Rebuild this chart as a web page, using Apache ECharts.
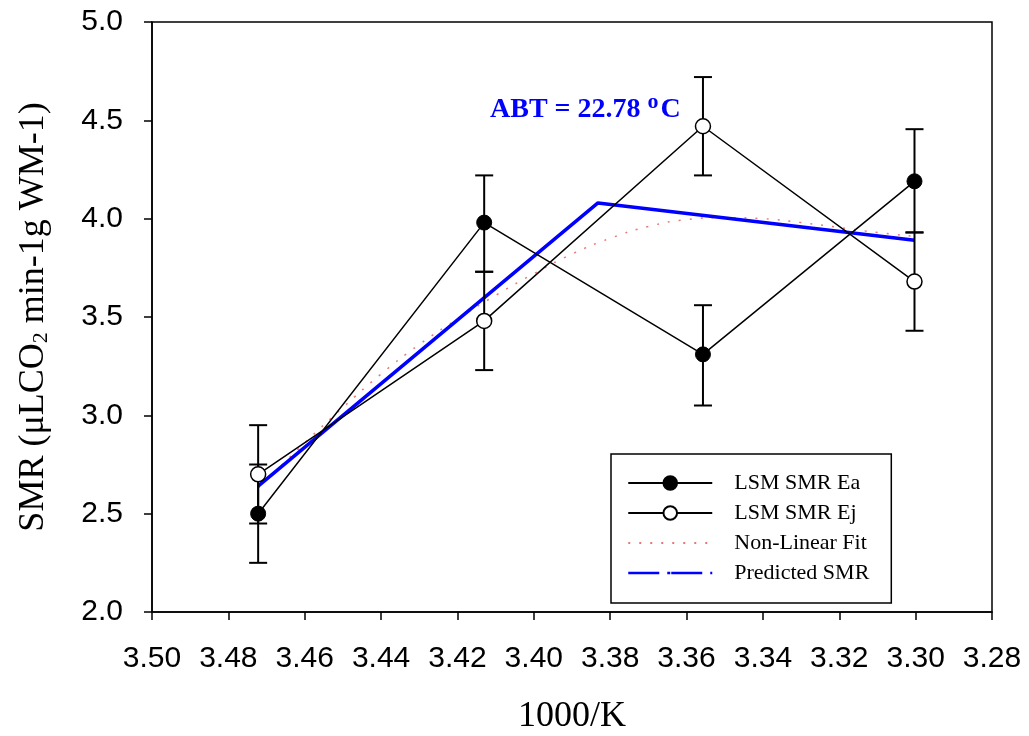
<!DOCTYPE html>
<html>
<head>
<meta charset="utf-8">
<script src="https://cdn.jsdelivr.net/npm/echarts@6/dist/echarts.min.js"></script>
<style>html,body{margin:0;padding:0;background:#fff;}#c{width:1029px;height:736px;}</style>
</head>
<body>
<div id="c"></div>
<script>
// 1000/K positions (15, 20, 25, 30 °C)
const xVals = [3.4722, 3.4130, 3.3557, 3.3003];
// LSM SMR Ea (filled)
const eaMean = [2.50, 3.98, 3.31, 4.19];
const eaLow  = [2.25, 3.73, 3.05, 3.93];
const eaHigh = [2.75, 4.22, 3.56, 4.455];
// LSM SMR Ej (open)
const ejMean = [2.70, 3.48, 4.47, 3.68];
const ejLow  = [2.45, 3.23, 4.22, 3.43];
const ejHigh = [2.95, 3.73, 4.72, 3.93];
// Predicted SMR (broken-line)
const predX = [3.4722, 3.3832, 3.3003];
const predY = [2.64, 4.08, 3.89];
// Non-linear fit curve
const fitX = [3.4722, 3.46, 3.45, 3.44, 3.43, 3.42, 3.41, 3.40, 3.39, 3.38, 3.37, 3.36, 3.35, 3.34, 3.33, 3.32, 3.31, 3.3003];
const fitY = [2.63, 2.86, 3.04, 3.21, 3.36, 3.49, 3.61, 3.72, 3.82, 3.90, 3.96, 3.995, 4.005, 4.00, 3.98, 3.955, 3.93, 3.91];
const yTicks = ['2.0','2.5','3.0','3.5','4.0','4.5','5.0'];

const zip = (a, b) => a.map((v, i) => [v, b[i]]);
const zip3 = (a, b, c) => a.map((v, i) => [v, b[i], c[i]]);

function errRender(params, api) {
  const x = api.value(0), lo = api.value(1), hi = api.value(2);
  const pLo = api.coord([x, lo]), pHi = api.coord([x, hi]);
  const hw = 9;
  const st = {stroke: '#000', lineWidth: 2};
  return {type: 'group', children: [
    {type: 'line', shape: {x1: pLo[0], y1: pLo[1], x2: pHi[0], y2: pHi[1]}, style: st},
    {type: 'line', shape: {x1: pLo[0] - hw, y1: pLo[1], x2: pLo[0] + hw, y2: pLo[1]}, style: st},
    {type: 'line', shape: {x1: pHi[0] - hw, y1: pHi[1], x2: pHi[0] + hw, y2: pHi[1]}, style: st}
  ]};
}

const chart = echarts.init(document.getElementById('c'), null, {renderer: 'canvas'});
const serif = 'Liberation Serif';
const sans = 'Liberation Sans';
chart.setOption({
  animation: false,
  backgroundColor: '#fff',
  grid: {left: 152, right: 37, top: 22, bottom: 124, outerBoundsMode: 'none', containLabel: false,
    show: true, borderColor: '#000', borderWidth: 1.5, backgroundColor: 'transparent'},
  xAxis: {
    type: 'value', min: 3.28, max: 3.50, interval: 0.02, inverse: true,
    name: '1000/K', nameLocation: 'middle', nameGap: 87,
    nameTextStyle: {fontFamily: serif, fontSize: 36, color: '#000'},
    axisLine: {show: true, onZero: false, lineStyle: {color: '#000', width: 1.5}},
    axisTick: {show: true, inside: false, length: 8, lineStyle: {color: '#000', width: 1.5}},
    axisLabel: {margin: 32, fontFamily: sans, fontSize: 30, color: '#000', formatter: v => v.toFixed(2)},
    splitLine: {show: false}
  },
  yAxis: {
    type: 'value', min: 2, max: 5, interval: 0.5,
    name: '{a|SMR (μLCO}{s|2}{a| min-1g WM-1)}', nameLocation: 'middle', nameGap: 100,
    nameTextStyle: {rich: {
      a: {fontFamily: serif, fontSize: 36, color: '#000'},
      s: {fontFamily: serif, fontSize: 22, color: '#000', verticalAlign: 'bottom', padding: [14, 0, 0, 0]}
    }},
    axisLine: {show: true, onZero: false, lineStyle: {color: '#000', width: 1.5}},
    axisTick: {show: true, inside: false, length: 8, lineStyle: {color: '#000', width: 1.5}},
    axisLabel: {margin: 29, fontFamily: sans, fontSize: 30, color: '#000', formatter: v => v.toFixed(1)},
    splitLine: {show: false}
  },
  legend: {
    orient: 'vertical', left: 611, top: 454,
    padding: [18, 22, 19, 16], itemWidth: 84, itemHeight: 17, itemGap: 8,
    borderColor: '#000', borderWidth: 1.5, backgroundColor: '#fff',
    textStyle: {fontFamily: serif, fontSize: 22, color: '#000', lineHeight: 22, padding: [0, 0, 0, 17]},
    data: [
      {name: 'LSM SMR Ea'},
      {name: 'LSM SMR Ej'},
      {name: 'Non-Linear Fit', itemStyle: {opacity: 0}},
      {name: 'Predicted SMR', itemStyle: {opacity: 0}, lineStyle: {type: [31, 8, 3, 1], width: 2.5, color: '#0000ff'}}
    ]
  },
  graphic: [{
    type: 'text', left: 490, top: 91, z: 100,
    style: {
      text: '{a|ABT = 22.78 }{s|o}{a|C}',
      rich: {
        a: {fontFamily: serif, fontSize: 28, fontWeight: 'bold', fill: '#0000ff'},
        s: {fontFamily: serif, fontSize: 22, fontWeight: 'bold', fill: '#0000ff', padding: [0, 2, 16, 0]}
      }
    }
  }],
  series: [
    {name: 'Non-Linear Fit', type: 'line', z: 1, data: zip(fitX, fitY), smooth: true, showSymbol: false, symbol: 'none',
      lineStyle: {color: '#e87878', width: 1.5, type: [2, 9]}, itemStyle: {color: '#e87878'}},
    {name: 'Predicted SMR', type: 'line', z: 2, data: zip(predX, predY), showSymbol: false, symbol: 'none',
      lineStyle: {color: '#0000ff', width: 3.5}, itemStyle: {color: '#0000ff'}},
    {type: 'custom', z: 3, renderItem: errRender, data: zip3(xVals, eaLow, eaHigh), encode: {x: 0, y: [1, 2]}, silent: true},
    {type: 'custom', z: 3, renderItem: errRender, data: zip3(xVals, ejLow, ejHigh), encode: {x: 0, y: [1, 2]}, silent: true},
    {name: 'LSM SMR Ea', type: 'line', z: 4, data: zip(xVals, eaMean), symbol: 'circle', symbolSize: 15,
      lineStyle: {color: '#000', width: 1.5}, itemStyle: {color: '#000', borderColor: '#000', borderWidth: 1}},
    {name: 'LSM SMR Ej', type: 'line', z: 5, data: zip(xVals, ejMean), symbol: 'circle', symbolSize: 15,
      lineStyle: {color: '#000', width: 1.5}, itemStyle: {color: '#fff', borderColor: '#000', borderWidth: 1.5}}
  ]
});
</script>
</body>
</html>
